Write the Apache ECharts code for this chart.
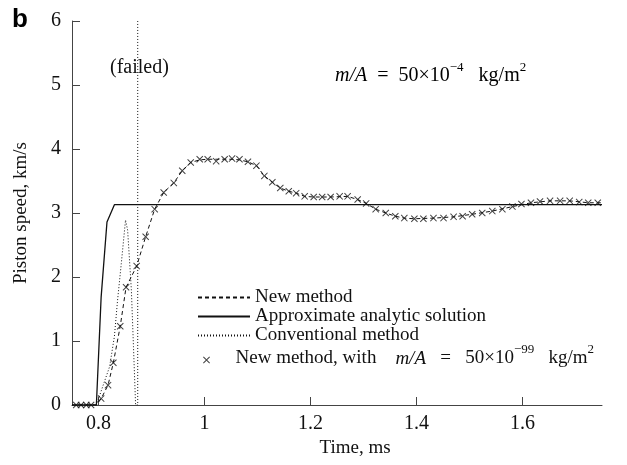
<!DOCTYPE html>
<html>
<head>
<meta charset="utf-8">
<script src="https://cdn.jsdelivr.net/npm/echarts@6/dist/echarts.min.js"></script>
<style>
  html, body { margin: 0; padding: 0; background: #fff; }
  #chart { width: 627px; height: 465px; }
</style>
</head>
<body>
<div id="chart"></div>
<script>
// time axis ticks (ms)
const timeTicks = [0.8, 1, 1.2, 1.4, 1.6]

// approximate analytic solution (solid)
const anaTime = [0.75, 0.796, 0.805, 0.816, 0.830, 1.75]
const anaSpeed = [0, 0, 1.69, 2.86, 3.13, 3.13]

// conventional method (dotted), fails near 0.874 ms
const convTime = [0.75, 0.796, 0.808, 0.821, 0.830, 0.836, 0.843, 0.851, 0.855, 0.862, 0.866, 0.870, 0.874, 0.874]
const convSpeed = [0, 0, 0.29, 0.60, 1.07, 1.64, 2.21, 2.89, 2.73, 1.80, 0.91, 0, 0, 6]

// new method (dashed)
const newTime = [0.75, 0.796, 0.805, 0.818, 0.828, 0.841, 0.852, 0.872, 0.889, 0.906, 0.923, 0.942, 0.958, 0.974,
  0.991, 1.006, 1.022, 1.038, 1.052, 1.066, 1.082, 1.098, 1.113, 1.128, 1.143, 1.159, 1.173, 1.189, 1.206, 1.238,
  1.270, 1.289, 1.305, 1.323, 1.342, 1.360, 1.377, 1.396, 1.432, 1.470, 1.505, 1.543, 1.581, 1.616, 1.652, 1.689,
  1.724, 1.75]
const newSpeed = [0, 0, 0.10, 0.31, 0.66, 1.23, 1.84, 2.17, 2.63, 3.06, 3.32, 3.47, 3.66, 3.79,
  3.83, 3.84, 3.84, 3.84, 3.84, 3.83, 3.80, 3.74, 3.58, 3.48, 3.39, 3.34, 3.31, 3.26, 3.25, 3.25,
  3.26, 3.21, 3.15, 3.06, 3.00, 2.95, 2.92, 2.91, 2.92, 2.94, 2.98, 3.03, 3.10, 3.16, 3.19, 3.19,
  3.16, 3.16]

// new method with m/A = 50e-99 (crosses)
const crossTime = [0.758, 0.767, 0.777, 0.786, 0.805, 0.818, 0.828, 0.841, 0.852, 0.872, 0.889, 0.906, 0.923, 0.942,
  0.958, 0.974, 0.991, 1.006, 1.022, 1.038, 1.052, 1.066, 1.082, 1.098, 1.113, 1.128, 1.143, 1.159, 1.173, 1.189,
  1.206, 1.222, 1.238, 1.255, 1.270, 1.289, 1.305, 1.323, 1.342, 1.360, 1.377, 1.396, 1.413, 1.432, 1.451, 1.470,
  1.487, 1.505, 1.524, 1.543, 1.562, 1.581, 1.598, 1.616, 1.633, 1.652, 1.671, 1.689, 1.707, 1.724, 1.742]
const crossSpeed = [0, 0, 0, 0, 0.10, 0.31, 0.66, 1.23, 1.84, 2.17, 2.63, 3.06, 3.32, 3.47,
  3.66, 3.79, 3.84, 3.84, 3.81, 3.84, 3.85, 3.84, 3.80, 3.74, 3.58, 3.48, 3.39, 3.34, 3.31, 3.26,
  3.25, 3.25, 3.25, 3.26, 3.26, 3.21, 3.15, 3.06, 3.00, 2.95, 2.92, 2.91, 2.91, 2.92, 2.92, 2.94,
  2.95, 2.98, 3.00, 3.03, 3.06, 3.10, 3.14, 3.16, 3.18, 3.19, 3.19, 3.19, 3.17, 3.16, 3.16]

const names = ['New method', 'Approximate analytic solution', 'Conventional method', 'New method, with m/A']

function pairs (xs, ys) {
  return xs.map((x, i) => [x, ys[i]])
}

const serif = 'Liberation Serif'
const ink = '#111'
const crossPath = 'path://M0,1L1,0L5,4L9,0L10,1L6,5L10,9L9,10L5,6L1,10L0,9L4,5Z'

// rich styles: n = normal, i = italic, s = superscript
function richSet (size) {
  return {
    n: { fontFamily: serif, fontSize: size, color: ink, lineHeight: 16, verticalAlign: 'bottom' },
    i: { fontFamily: serif, fontSize: size, fontStyle: 'italic', color: ink, lineHeight: 16, verticalAlign: 'bottom' },
    s: { fontFamily: serif, fontSize: 13, color: ink, lineHeight: 13, padding: [0, 0, 12, 0], verticalAlign: 'bottom' }
  }
}

const chart = echarts.init(document.getElementById('chart'))
chart.setOption({
  animation: false,
  backgroundColor: '#fff',
  grid: { left: 72, right: 25, top: 21, bottom: 60 },
  xAxis: {
    type: 'value',
    min: 0.75,
    max: 1.75,
    name: 'Time, ms',
    nameLocation: 'middle',
    nameGap: 34,
    nameTextStyle: { fontFamily: serif, fontSize: 19, color: ink, padding: [0, 0, 0, 36] },
    axisLine: { lineStyle: { color: '#444', width: 1 } },
    axisTick: { inside: true, length: 8, customValues: timeTicks, lineStyle: { color: '#444' } },
    axisLabel: { customValues: timeTicks, fontFamily: serif, fontSize: 20, color: ink, margin: 9 },
    splitLine: { show: false }
  },
  yAxis: {
    type: 'value',
    min: 0,
    max: 6,
    interval: 1,
    name: 'Piston speed, km/s',
    nameLocation: 'middle',
    nameGap: 41,
    nameTextStyle: { fontFamily: serif, fontSize: 19, color: ink },
    axisLine: { show: true, lineStyle: { color: '#444', width: 1 } },
    axisTick: { show: true, inside: true, length: 8, lineStyle: { color: '#444' } },
    axisLabel: { fontFamily: serif, fontSize: 20, color: ink, margin: 11 },
    splitLine: { show: false }
  },
  legend: [
    {
      orient: 'vertical',
      left: 192,
      top: 283,
      itemWidth: 52,
      itemHeight: 7,
      itemGap: 0,
      selectedMode: false,
      data: names.slice(0, 3).map(n => ({ name: n, itemStyle: { opacity: 0 } })),
      textStyle: { fontFamily: serif, fontSize: 19, color: ink }
    },
    {
      orient: 'vertical',
      left: 198,
      top: 338,
      itemWidth: 20,
      itemHeight: 7,
      selectedMode: false,
      data: [names[3]],
      textStyle: { fontFamily: serif, fontSize: 19, color: ink, padding: [0, 0, 0, 14], rich: richSet(19) },
      formatter: function () {
        return '{n|New method, with    }{i|m/A}{n|   =   50×10}{s|−99}{n|   kg/m}{s|2}'
      }
    }
  ],
  graphic: [
    {
      type: 'text', left: 12, top: 7,
      style: { text: 'b', fontFamily: 'Liberation Sans', fontWeight: 'bold', fontSize: 26, fill: '#000' }
    },
    {
      type: 'text', left: 110, top: 58,
      style: { text: '(failed)', fontFamily: serif, fontSize: 20, fill: ink }
    },
    {
      type: 'text', left: 335, top: 61,
      style: {
        text: '{i|m/A}{n|  =  50×10}{s|−4}{n|   kg/m}{s|2}',
        rich: richSet(20)
      }
    }
  ],
  series: [
    {
      name: names[0],
      type: 'line',
      data: pairs(newTime, newSpeed),
      symbol: 'none',
      itemStyle: { color: ink },
      lineStyle: { color: ink, width: 1, type: [4, 3] },
      z: 3
    },
    {
      name: names[1],
      type: 'line',
      data: pairs(anaTime, anaSpeed),
      symbol: 'none',
      itemStyle: { color: ink },
      lineStyle: { color: ink, width: 1.3, type: 'solid' },
      z: 2
    },
    {
      name: names[2],
      type: 'line',
      data: pairs(convTime, convSpeed),
      symbol: 'none',
      itemStyle: { color: ink },
      lineStyle: { color: ink, width: 1, type: [1, 2] },
      z: 2
    },
    {
      name: names[3],
      type: 'scatter',
      data: pairs(crossTime, crossSpeed),
      symbol: crossPath,
      symbolSize: 7,
      itemStyle: { color: ink },
      z: 4
    }
  ]
})
</script>
</body>
</html>
